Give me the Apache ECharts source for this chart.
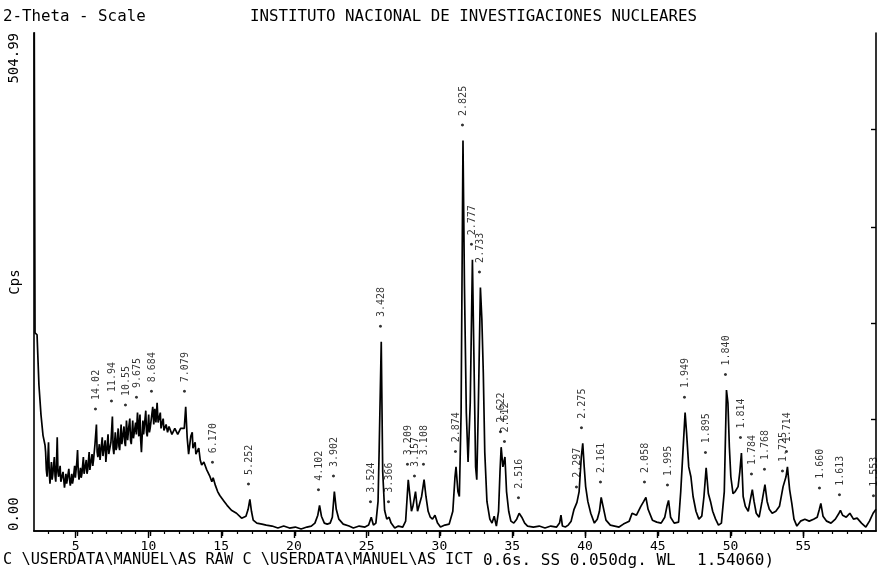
<!DOCTYPE html>
<html><head><meta charset="utf-8">
<script src="https://cdn.jsdelivr.net/npm/echarts@6/dist/echarts.min.js"></script>
<style>html,body{margin:0;padding:0;background:#fff}#c{width:877px;height:571px}</style>
</head><body><div id="c"></div>
<script>
// ---- texts ----
const scaleTitle = '2-Theta - Scale';
const mainTitle = 'INSTITUTO NACIONAL DE INVESTIGACIONES NUCLEARES';
const footerFiles = 'C \\USERDATA\\MANUEL\\AS RAW C \\USERDATA\\MANUEL\\AS ICT';
const footerScan = '0.6s. SS 0.050dg. WL';
const footerWave = '1.54060)';
const yAxisName = 'Cps';

// ---- axes ----
const xMin = 2, xMax = 60;
const xMajorTicks = [5, 10, 15, 20, 25, 30, 35, 40, 45, 50, 55];
const xMinorTicks = [3,4,5,6,7,8,9,10,11,12,13,14,15,16,17,18,19,20,21,22,23,24,25,26,27,28,29,30,31,32,33,34,35,36,37,38,39,40,41,42,43,44,45,46,47,48,49,50,51,52,53,54,55,56,57,58,59];
const yMin = 0, yMax = 504.99;
const yLabelValues = [0, 504.99];
const yLabelTexts = ['0.00', '504.99'];
const yRightTicks = [113, 211, 308, 407];

// ---- diffraction scan: [2-theta (deg), counts per second] ----
const scan = [
[2.00,620],[2.07,201],[2.21,199],[2.34,148],[2.48,118],[2.62,97],[2.76,87],
[2.8,80],[2.85,62],[2.9,55],[2.95,72],[3.0,90],[3.05,60],[3.1,48],[3.2,70],[3.25,52],[3.3,58],[3.4,75],[3.45,56],[3.5,50],[3.55,68],[3.6,95],[3.65,60],[3.7,55],[3.8,66],[3.85,50],[3.9,48],[4.0,60],[4.05,52],[4.1,44],[4.2,58],[4.25,48],[4.3,50],[4.4,63],[4.45,52],[4.5,46],[4.6,58],[4.65,48],[4.7,52],[4.8,66],[4.85,54],[4.9,55],[4.95,70],[5.0,82],[5.05,60],[5.1,52],[5.2,64],[5.25,54],[5.3,58],[5.4,75],[5.45,58],[5.5,60],[5.6,72],[5.65,58],[5.7,62],[5.8,80],[5.85,62],[5.9,68],[6.0,78],[6.05,66],[6.1,72],[6.2,88],
[6.3,108],[6.35,80],[6.4,75],[6.5,88],[6.55,72],[6.6,70],[6.7,95],[6.75,76],[6.8,78],[6.9,92],[6.95,70],[7.0,72],[7.1,98],[7.15,78],[7.2,80],[7.3,90],[7.4,116],[7.45,84],[7.5,78],[7.6,100],[7.65,82],[7.7,85],[7.8,104],[7.85,86],[7.9,82],[8.0,108],[8.05,88],[8.1,90],[8.2,106],[8.25,90],[8.3,86],[8.37,112],[8.45,92],[8.52,104],[8.6,114],[8.65,92],[8.7,88],[8.8,112],[8.85,94],[8.9,95],[9.0,110],[9.05,98],[9.13,120],[9.22,96],[9.3,118],[9.35,92],[9.4,80],[9.5,112],[9.55,98],[9.6,100],[9.7,122],[9.75,100],[9.8,96],[9.9,118],[9.95,100],[10.0,104],[10.1,116],[10.18,126],[10.25,108],[10.32,124],[10.4,110],[10.48,130],[10.55,110],[10.6,112],[10.7,120],[10.75,104],[10.8,108],[10.9,114],[10.95,102],[11.0,104],[11.1,108],[11.2,100],[11.3,106],[11.4,104],[11.5,98],[11.6,100],[11.7,104],[11.8,103],[11.9,98],[12.0,100],[12.1,104],[12.2,102],[12.35,104],[12.45,126],[12.55,95],[12.65,78],[12.8,96],[12.9,100],[12.95,84],[13.0,85],[13.1,90],[13.15,78],[13.2,80],[13.35,84],[13.45,72],[13.55,67],[13.7,70],[13.9,62],[14.1,56],[14.25,50],[14.34,54],[14.5,46],[14.65,40],[14.8,36],[14.95,33],[15.1,30],[15.3,26],[15.6,21],[15.95,18],[16.3,13],[16.6,15],[16.75,22],[16.87,32],[16.98,20],
[17.1,11],[17.35,8],[17.7,7],[18.0,6],[18.4,5],[18.8,3],[19.2,5],[19.6,3],[20.0,4],[20.4,2],[20.8,4],[21.1,5],[21.35,8],[21.55,16],[21.67,26],[21.8,15],[22.0,8],[22.2,7],[22.4,8],[22.55,14],[22.69,40],[22.82,22],[23.0,12],[23.3,7],[23.7,5],[24.0,3],[24.4,5],[24.8,4],[25.05,6],[25.23,14],[25.38,6],[25.55,8],[25.7,30],[25.78,85],[25.92,192],[26.02,60],[26.15,21],[26.3,12],[26.46,14],[26.6,8],[26.85,3],[27.1,5],[27.4,4],[27.6,10],[27.78,52],[27.9,35],[28.0,20],[28.1,25],[28.28,40],[28.42,20],[28.55,22],[28.7,35],[28.87,52],[29.0,35],[29.15,20],[29.3,14],[29.45,12],[29.62,16],[29.8,8],[30.0,4],[30.3,6],[30.6,7],[30.85,20],[31.0,55],[31.07,65],[31.2,40],[31.3,35],[31.42,120],[31.55,396],[31.65,250],[31.78,120],[31.9,70],[32.05,130],[32.2,275],[32.3,180],[32.42,65],[32.5,52],[32.6,120],[32.75,247],[32.85,215],[32.95,160],[33.05,80],[33.2,30],[33.4,12],[33.55,8],[33.7,15],[33.85,5],[34.0,20],[34.1,60],[34.18,85],[34.3,65],[34.44,75],[34.55,40],[34.7,20],[34.85,10],[35.05,8],[35.25,12],[35.42,18],[35.6,14],[35.8,8],[36.0,5],[36.4,4],[36.8,5],[37.2,3],[37.6,5],[38.0,4],[38.2,8],[38.3,16],[38.4,5],[38.6,4],[38.8,6],[39.0,10],[39.2,22],[39.4,29],[39.55,40],[39.7,75],[39.8,89],[39.9,65],[40.0,45],[40.15,30],[40.35,18],[40.6,8],[40.8,12],[40.95,20],[41.07,34],[41.2,25],[41.4,11],[41.7,6],[42.0,5],[42.3,4],[42.6,7],[43.0,10],[43.2,18],[43.5,16],[43.8,25],[44.0,30],[44.15,34],[44.3,22],[44.6,11],[44.9,9],[45.2,8],[45.45,14],[45.6,25],[45.71,31],[45.85,14],[46.1,8],[46.4,9],[46.55,40],[46.7,80],[46.85,120],[46.95,100],[47.1,65],[47.25,55],[47.4,35],[47.6,20],[47.8,12],[48.0,15],[48.15,35],[48.3,64],[48.45,38],[48.6,30],[48.75,20],[48.95,12],[49.15,6],[49.35,8],[49.55,40],[49.7,143],[49.8,130],[49.9,85],[50.0,55],[50.15,38],[50.3,40],[50.5,45],[50.62,60],[50.73,79],[50.85,35],[51.0,25],[51.2,20],[51.35,32],[51.48,42],[51.6,30],[51.75,18],[51.95,14],[52.15,30],[52.35,47],[52.5,30],[52.65,22],[52.85,18],[53.1,20],[53.35,25],[53.6,45],[53.8,55],[53.9,65],[54.05,42],[54.2,28],[54.35,12],[54.55,5],[54.8,10],[55.1,12],[55.4,10],[55.7,12],[55.95,14],[56.1,22],[56.2,28],[56.35,15],[56.6,10],[56.9,8],[57.2,12],[57.45,18],[57.55,21],[57.7,16],[57.95,14],[58.2,18],[58.45,12],[58.7,13],[59.0,8],[59.3,4],[59.55,10],[59.8,18],[60.0,22]
];

// ---- peak annotations (d-spacing in Angstrom) ----
const peakTheta = [6.30,7.40,8.37,9.13,10.18,12.45,14.34,16.87,21.67,22.69,25.23,25.92,26.46,27.78,28.28,28.87,31.07,31.55,32.20,32.75,34.18,34.44,35.42,39.40,39.80,41.07,44.15,45.71,46.85,48.30,49.70,50.73,51.48,52.35,53.60,53.90,56.20,57.55,59.90];
const peakCps   = [108,116,112,120,126,126,54,32,26,40,14,192,14,52,40,52,65,396,275,247,85,75,18,29,89,34,34,31,120,64,143,79,42,47,45,65,28,21,20];
const peakD     = ['14.02','11.94','10.55','9.675','8.684','7.079','6.170','5.252','4.102','3.902','3.524','3.428','3.366','3.209','3.157','3.108','2.874','2.825','2.777','2.733','2.622','2.612','2.516','2.297','2.275','2.161','2.058','1.995','1.949','1.895','1.840','1.814','1.784','1.768','1.725','1.714','1.660','1.613','1.553'];

const MONO = 'DejaVu Sans Mono';
const chart = echarts.init(document.getElementById('c'), null, {renderer: 'canvas'});
const gridBox = {left: 32, top: 33, right: 1, bottom: 40};
const axLine = {show: true, lineStyle: {color: '#000', width: 1.6}};

chart.setOption({
  animation: false,
  backgroundColor: '#fff',
  grid: [Object.assign({}, gridBox), Object.assign({}, gridBox)],
  xAxis: [
    {gridIndex: 0, type: 'value', min: xMin, max: xMax, position: 'bottom',
     axisLine: axLine, splitLine: {show: false},
     axisTick: {show: true, customValues: xMinorTicks, length: 3, lineStyle: {color: '#000', width: 1.2}},
     axisLabel: {show: false}},
    {gridIndex: 0, type: 'value', min: xMin, max: xMax, position: 'top',
     axisLine: axLine, splitLine: {show: false},
     axisTick: {show: true, inside: true, customValues: xMajorTicks, length: 5, lineStyle: {color: '#000', width: 1.4}},
     axisLabel: {show: false}},
    {gridIndex: 1, type: 'value', min: xMin, max: xMax, position: 'bottom',
     axisLine: {show: false}, splitLine: {show: false},
     axisTick: {show: true, customValues: xMajorTicks, length: 7, lineStyle: {color: '#000', width: 1.4}},
     axisLabel: {show: true, customValues: xMajorTicks, margin: 9, color: '#000', fontFamily: MONO, fontSize: 13,
                 formatter: v => String(v)}}
  ],
  yAxis: [
    {gridIndex: 0, type: 'value', min: yMin, max: yMax, position: 'left',
     axisLine: axLine, splitLine: {show: false}, axisTick: {show: false}, axisLabel: {show: false},
     name: yAxisName, nameLocation: 'middle', nameRotate: 90, nameGap: 12,
     nameTextStyle: {color: '#000', fontFamily: MONO, fontSize: 14}},
    {gridIndex: 0, type: 'value', min: yMin, max: yMax, position: 'right',
     axisLine: axLine, splitLine: {show: false},
     axisTick: {show: true, inside: true, customValues: yRightTicks, length: 5, lineStyle: {color: '#000', width: 1.4}},
     axisLabel: {show: false}},
    {gridIndex: 1, type: 'value', min: yMin, max: yMax, show: false}
  ],
  series: [
    {type: 'line', xAxisIndex: 0, yAxisIndex: 0, data: scan, showSymbol: false, symbol: 'none',
     clip: true, lineStyle: {color: '#000', width: 1.7}, z: 3},
    {type: 'scatter', xAxisIndex: 0, yAxisIndex: 0,
     data: peakTheta.map((t, i) => [t, peakCps[i], peakD[i]]),
     symbolSize: 1, itemStyle: {color: 'rgba(0,0,0,0)'}, clip: false,
     label: {show: true, position: 'top', distance: 12, rotate: 90, align: 'left', verticalAlign: 'middle',
             color: '#000', fontFamily: MONO, fontSize: 10, formatter: p => '\u2022 ' + p.data[2]}}
  ]
});

// header / footer text and rotated y-axis end labels positioned via the axis scale
const g = [
  {type: 'text', left: 3, top: 9, style: {text: scaleTitle, fill: '#000', font: '15.8px "' + MONO + '"'}},
  {type: 'text', left: 250, top: 9, style: {text: mainTitle, fill: '#000', font: '15.8px "' + MONO + '"'}},
  {type: 'text', left: 3, top: 553, style: {text: footerFiles, fill: '#000', font: '15.3px "' + MONO + '"'}},
  {type: 'text', left: 483, top: 553, style: {text: footerScan, fill: '#000', font: '16px "' + MONO + '"'}},
  {type: 'text', left: 697, top: 553, style: {text: footerWave, fill: '#000', font: '16px "' + MONO + '"'}}
];
yLabelValues.forEach((v, i) => {
  const p = chart.convertToPixel({xAxisIndex: 0, yAxisIndex: 0}, [xMin, v]);
  g.push({type: 'text', x: 14, y: p[1], rotation: Math.PI / 2,
          style: {text: yLabelTexts[i], fill: '#000', font: '14px "' + MONO + '"',
                  textAlign: i === 0 ? 'left' : 'right', textVerticalAlign: 'middle'}});
});
chart.setOption({graphic: g});
</script>
</body></html>
